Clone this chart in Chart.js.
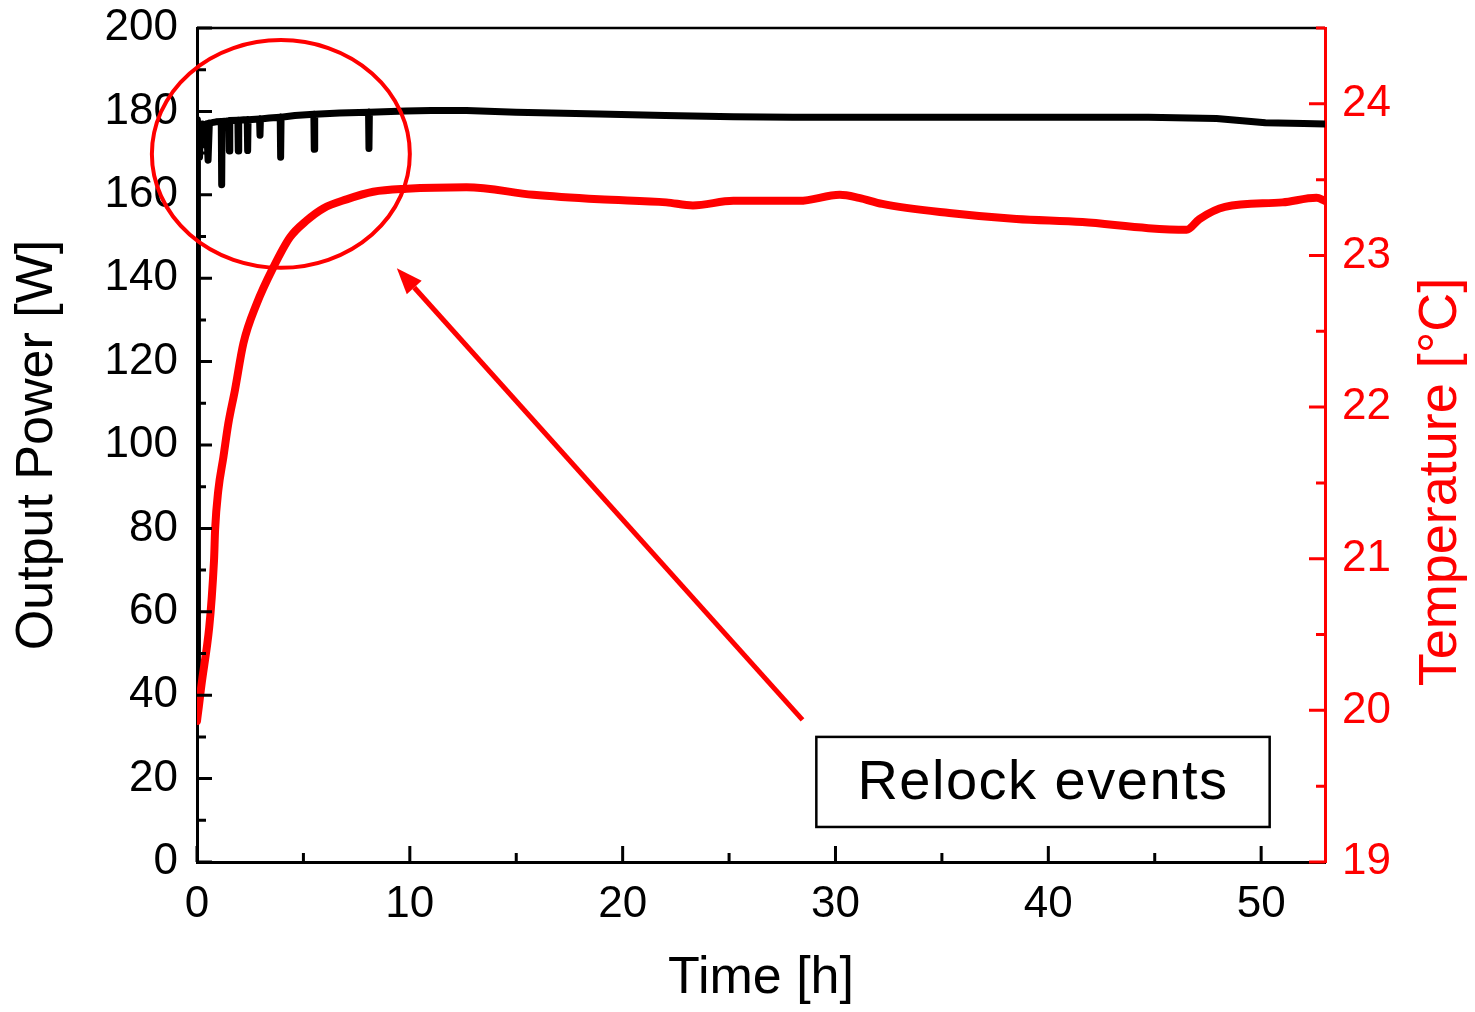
<!DOCTYPE html>
<html>
<head>
<meta charset="utf-8">
<script src="https://cdn.jsdelivr.net/npm/chart.js@4.4.0/dist/chart.umd.min.js"></script>
<style>
  html, body { margin: 0; padding: 0; background: #fff; }
  #wrap { width: 1475px; height: 1012px; }
</style>
</head>
<body>
<div id="wrap"><canvas id="powerChart" width="1475" height="1012"></canvas></div>
<script>
// output power (black)
const powerTime = [0, 0.01, 0.03, 0.06, 0.09, 0.12, 0.16, 0.2, 0.25, 0.3, 0.36, 0.45, 0.52, 0.58, 0.7, 0.9,
  1.14, 1.16, 1.18, 1.4, 1.5, 1.52, 1.54, 1.92, 1.94, 1.96, 2.2, 2.36, 2.38, 2.4, 2.94, 2.96, 2.98, 3.4,
  3.91, 3.93, 3.95, 4.6, 5.49, 5.51, 5.53, 6.7, 8.06, 8.08, 8.1, 9.8, 11, 12.66, 15, 18.9, 22, 25.2,
  28, 31.1, 35, 40, 44.7, 47.9, 50.2, 52, 53];
const powerValues = [35, 112, 178, 171, 177, 169, 176, 173, 177, 172, 176.5, 177, 168.3, 177.2, 177.3, 177.5,
  177.6, 162.4, 177.6, 177.7, 177.8, 170.5, 177.8, 177.9, 170.5, 177.9, 178.0, 178.0, 170.6, 178.0, 178.2, 174.3, 178.2, 178.4,
  178.6, 169.0, 178.6, 179.0, 179.3, 170.9, 179.3, 179.6, 179.8, 171.1, 179.8, 180.1, 180.2, 180.2, 179.8, 179.4, 179.0, 178.7,
  178.6, 178.6, 178.6, 178.6, 178.6, 178.3, 177.3, 177.1, 177.0];

// temperature (red)
const tempTime = [0, 0.15, 0.8, 0.85, 1.0, 1.24, 1.47, 1.78, 2.18, 2.8, 3.58, 4.37, 5.15, 5.93, 7.03, 8.28, 9.85,
  12.66, 15.8, 18.9, 22.05, 23.3, 25.2, 28.3, 30.2, 31.1, 32.2, 35.35, 38.5, 41.6, 44.7, 46.5, 47.1, 48.3, 51, 52.6, 53];
const tempValues = [19.93, 20.10, 20.99, 21.19, 21.45, 21.67, 21.89, 22.11, 22.42, 22.68, 22.92, 23.12, 23.23, 23.31, 23.37, 23.42, 23.44,
  23.45, 23.40, 23.37, 23.35, 23.33, 23.36, 23.36, 23.40, 23.38, 23.34, 23.28, 23.24, 23.22, 23.18, 23.17, 23.24, 23.32, 23.35, 23.38, 23.36];

const xTicks = [0, 10, 20, 30, 40, 50];
const xMinor = [5, 15, 25, 35, 45];
const powerTicks = [0, 20, 40, 60, 80, 100, 120, 140, 160, 180, 200];
const powerMinor = [10, 30, 50, 70, 90, 110, 130, 150, 170, 190];
const tempTicks = [19, 20, 21, 22, 23, 24];
const tempMinor = [19.5, 20.5, 21.5, 22.5, 23.5, 24.5];

const FONT = "'Liberation Sans', Arial, sans-serif";

function toPoints(xs, ys) {
  return xs.map((x, i) => ({ x: x, y: ys[i] }));
}

// no extra room for half tick labels, the layout padding fixes the plot box
function noOverflow(s) {
  s.paddingTop = 0; s.paddingBottom = 0; s.paddingLeft = 0; s.paddingRight = 0;
}

// ticks point into the plot area, so draw them by hand
const inwardTicks = {
  id: 'inwardTicks',
  afterDatasetsDraw(chart) {
    const ctx = chart.ctx;
    const a = chart.chartArea;
    const { x, y, y2 } = chart.scales;
    ctx.save();
    ctx.lineWidth = 3;
    ctx.strokeStyle = '#000';
    ctx.beginPath();
    xTicks.forEach(v => { const p = x.getPixelForValue(v); ctx.moveTo(p, a.bottom); ctx.lineTo(p, a.bottom - 16); });
    xMinor.forEach(v => { const p = x.getPixelForValue(v); ctx.moveTo(p, a.bottom); ctx.lineTo(p, a.bottom - 9); });
    powerTicks.forEach(v => { const p = y.getPixelForValue(v); ctx.moveTo(a.left, p); ctx.lineTo(a.left + 15, p); });
    powerMinor.forEach(v => { const p = y.getPixelForValue(v); ctx.moveTo(a.left, p); ctx.lineTo(a.left + 9, p); });
    ctx.stroke();
    // top frame
    ctx.lineWidth = 2.5;
    ctx.beginPath();
    ctx.moveTo(a.left, a.top);
    ctx.lineTo(a.right, a.top);
    ctx.stroke();
    ctx.strokeStyle = '#ff0000';
    ctx.lineWidth = 3;
    ctx.beginPath();
    tempTicks.forEach(v => { const p = y2.getPixelForValue(v); ctx.moveTo(a.right, p); ctx.lineTo(a.right - 16, p); });
    tempMinor.forEach(v => { const p = y2.getPixelForValue(v); ctx.moveTo(a.right, p); ctx.lineTo(a.right - 9, p); });
    ctx.stroke();

    // right axis title, reading bottom to top
    ctx.fillStyle = '#ff0000';
    ctx.font = '54px ' + FONT;
    ctx.textAlign = 'center';
    ctx.textBaseline = 'middle';
    ctx.translate(1441, 482);
    ctx.rotate(-Math.PI / 2);
    ctx.fillText('Temperature [°C]', 0, 0);
    ctx.restore();
  }
};

// circle, arrow and the "Relock events" box
const relockNote = {
  id: 'relockNote',
  afterDraw(chart) {
    const ctx = chart.ctx;
    const { x, y } = chart.scales;
    ctx.save();
    const cx = x.getPixelForValue(3.94), cy = y.getPixelForValue(169.8);
    const rx = x.getPixelForValue(3.94 + 6.06) - cx;
    const ry = cy - y.getPixelForValue(169.8 + 27.3);
    ctx.strokeStyle = '#ff0000';
    ctx.lineWidth = 4;
    ctx.beginPath();
    ctx.ellipse(cx, cy, rx, ry, 0, 0, Math.PI * 2);
    ctx.stroke();

    const x0 = x.getPixelForValue(28.45), y0 = y.getPixelForValue(34.1);
    const x1 = x.getPixelForValue(9.39), y1 = y.getPixelForValue(142.4);
    const ang = Math.atan2(y1 - y0, x1 - x0);
    const head = 26, half = 10;
    const bx = x1 - head * Math.cos(ang), by = y1 - head * Math.sin(ang);
    ctx.lineWidth = 5;
    ctx.beginPath();
    ctx.moveTo(x0, y0);
    ctx.lineTo(bx, by);
    ctx.stroke();
    ctx.fillStyle = '#ff0000';
    ctx.beginPath();
    ctx.moveTo(x1, y1);
    ctx.lineTo(bx + half * Math.sin(ang), by - half * Math.cos(ang));
    ctx.lineTo(bx - half * Math.sin(ang), by + half * Math.cos(ang));
    ctx.closePath();
    ctx.fill();

    const l = x.getPixelForValue(29.1), r = x.getPixelForValue(50.4);
    const t = y.getPixelForValue(30), b = y.getPixelForValue(8.4);
    ctx.fillStyle = '#fff';
    ctx.fillRect(l, t, r - l, b - t);
    ctx.strokeStyle = '#000';
    ctx.lineWidth = 2.5;
    ctx.strokeRect(l, t, r - l, b - t);
    ctx.fillStyle = '#000';
    ctx.font = '56px ' + FONT;
    ctx.letterSpacing = '1.5px';
    ctx.textAlign = 'center';
    ctx.textBaseline = 'middle';
    ctx.fillText('Relock events', (l + r) / 2, (t + b) / 2 + 2);
    ctx.restore();
  }
};

new Chart(document.getElementById('powerChart'), {
  type: 'line',
  data: {
    datasets: [
      {
        label: 'Temperature',
        data: toPoints(tempTime, tempValues),
        yAxisID: 'y2',
        borderColor: '#ff0000',
        borderWidth: 8,
        pointRadius: 0,
        cubicInterpolationMode: 'monotone',
        borderJoinStyle: 'round',
        borderCapStyle: 'round',
        order: 1
      },
      {
        label: 'Output Power',
        data: toPoints(powerTime, powerValues),
        yAxisID: 'y',
        borderColor: '#000',
        borderWidth: 7,
        pointRadius: 0,
        borderJoinStyle: 'round',
        borderCapStyle: 'round',
        order: 2
      }
    ]
  },
  options: {
    responsive: false,
    devicePixelRatio: 1,
    animation: false,
    layout: { padding: { top: 28, left: 0, right: 0, bottom: 0 } },
    plugins: { legend: { display: false }, tooltip: { enabled: false } },
    scales: {
      x: {
        type: 'linear',
        min: 0, max: 53,
        afterBuildTicks: s => { s.ticks = xTicks.map(v => ({ value: v })); },
        afterFit: s => { s.height = 150; noOverflow(s); },
        grid: { display: false },
        border: { color: '#000', width: 3 },
        ticks: { color: '#000', font: { size: 44, family: FONT }, padding: 8, maxRotation: 0 },
        title: { display: true, text: 'Time [h]', color: '#000', font: { size: 52, family: FONT }, padding: { top: 0, bottom: 2 } }
      },
      y: {
        position: 'left',
        min: 0, max: 200,
        afterBuildTicks: s => { s.ticks = powerTicks.map(v => ({ value: v })); },
        afterFit: s => { s.width = 197; noOverflow(s); },
        grid: { display: false },
        border: { color: '#000', width: 3 },
        ticks: { color: '#000', font: { size: 44, family: FONT }, padding: 11 },
        title: { display: true, text: 'Output Power [W]', color: '#000', font: { size: 52, family: FONT }, padding: { top: 6, bottom: 0 } }
      },
      y2: {
        position: 'right',
        min: 19, max: 24.5,
        afterBuildTicks: s => { s.ticks = tempTicks.map(v => ({ value: v })); },
        afterFit: s => { s.width = 150; noOverflow(s); },
        grid: { display: false },
        border: { color: '#ff0000', width: 3 },
        ticks: { color: '#ff0000', font: { size: 44, family: FONT }, padding: 9 }
      }
    }
  },
  plugins: [inwardTicks, relockNote]
});
</script>
</body>
</html>
